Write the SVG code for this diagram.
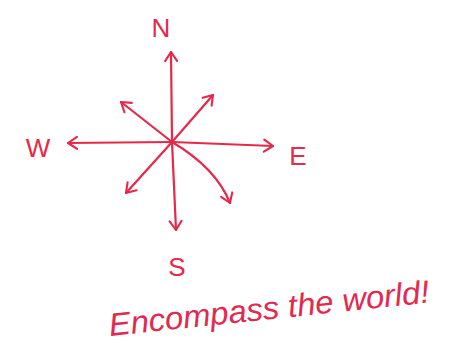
<svg xmlns="http://www.w3.org/2000/svg" width="450" height="348" viewBox="0 0 450 348">
<defs>
<style>
.ln{fill:none;stroke:#e6284a;stroke-width:2.2;stroke-linecap:round;stroke-linejoin:round}
.lbl{font-family:"Liberation Sans","DejaVu Sans",sans-serif;fill:#e6284a;font-size:26px;text-anchor:middle}
.hand{font-family:"Liberation Sans","DejaVu Sans",sans-serif;fill:#e02a50;font-size:32px;font-style:italic}
</style>
<marker id="ah" viewBox="0 0 20 20" refX="18" refY="10" markerWidth="15" markerHeight="15" markerUnits="userSpaceOnUse" orient="auto" overflow="visible">
<path d="M6,2 L18,10 L6,18" fill="none" stroke="#e6284a" stroke-width="2.8" stroke-linecap="round" stroke-linejoin="round"/>
</marker>
</defs>
<rect width="450" height="348" fill="#ffffff"/>
<g id="connectors">
<path class="ln" d="M172,142 L171,52" marker-end="url(#ah)"/>
<path class="ln" d="M172,142 L176,230" marker-end="url(#ah)"/>
<path class="ln" d="M172,142 L68,143" marker-end="url(#ah)"/>
<path class="ln" d="M172,142 L273,146" marker-end="url(#ah)"/>
<path class="ln" d="M172,142 L121,102" marker-end="url(#ah)"/>
<path class="ln" d="M172,142 L213,95" marker-end="url(#ah)"/>
<path class="ln" d="M172,142 L126,193" marker-end="url(#ah)"/>
<path class="ln" d="M172,142 Q216,168 230,203" marker-end="url(#ah)"/>
</g>
<g id="north"><text class="lbl" x="161" y="37">N</text></g>
<g id="west"><text class="lbl" x="38" y="157">W</text></g>
<g id="east"><text class="lbl" x="298" y="165">E</text></g>
<g id="south"><text class="lbl" x="177" y="276">S</text></g>
<g id="caption"><text class="hand" x="110" y="336" textLength="322" lengthAdjust="spacingAndGlyphs" transform="rotate(-6 110 336)">Encompass the world!</text></g>
</svg>
